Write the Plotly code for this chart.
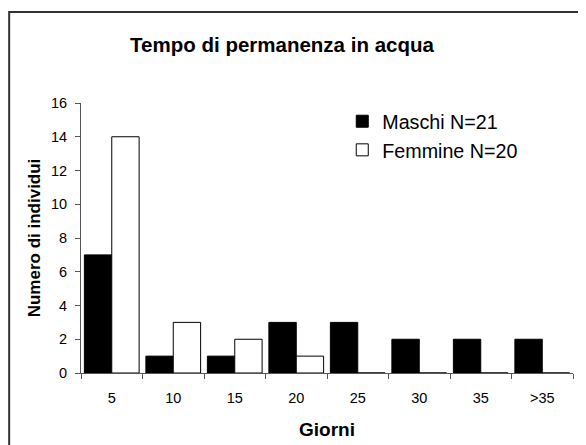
import plotly.graph_objects as go

categories = ["5", "10", "15", "20", "25", "30", "35", ">35"]
maschi = [7, 1, 1, 3, 3, 2, 2, 2]
femmine = [14, 3, 2, 1, 0, 0, 0, 0]
y_ticks = [0, 2, 4, 6, 8, 10, 12, 14, 16]

FONT = "Liberation Sans, Arial, sans-serif"

# the page body adds an 8px offset, so the figure is drawn 8px smaller
W, H = 578, 437

fig = go.Figure()
fig.add_trace(go.Bar(
    x=categories, y=maschi, name="Maschi N=21",
    marker=dict(color="black", line=dict(color="black", width=1)),
))
fig.add_trace(go.Bar(
    x=categories, y=femmine, name="Femmine N=20",
    marker=dict(color="white", line=dict(color="black", width=1)),
))

fig.update_layout(
    width=W, height=H,
    margin=dict(l=73, r=13, t=95, b=72, autoexpand=False),
    paper_bgcolor="white", plot_bgcolor="white",
    barmode="group", bargap=0.11, bargroupgap=0,
    font=dict(family=FONT, color="black", size=14),
    title=dict(text="<b>Tempo di permanenza in acqua</b>",
               x=274 / W, xanchor="center", y=1 - 37 / H, yanchor="middle",
               font=dict(size=20.5, family=FONT, color="black")),
    legend=dict(x=0.531, y=1.004, xanchor="left", yanchor="top",
                font=dict(size=19.7, family=FONT, color="black"),
                bgcolor="rgba(0,0,0,0)", itemwidth=30, tracegroupgap=0),
    showlegend=True,
)

fig.update_xaxes(
    type="category", range=[-0.5, 7.5], automargin=False,
    showline=True, linecolor="#555", linewidth=1,
    ticks="outside", tickson="boundaries", ticklen=5, tickcolor="#555",
    ticklabelstandoff=12,
    showgrid=False, zeroline=False,
    tickfont=dict(size=14.5, color="black"),
    title=dict(text="<b>Giorni</b>", font=dict(size=19, color="black"), standoff=17),
)
fig.update_yaxes(
    range=[0, 16], tickvals=y_ticks, automargin=False,
    showline=True, linecolor="#555", linewidth=1,
    ticks="outside", ticklen=5, tickcolor="#555",
    ticklabelstandoff=5,
    showgrid=False, zeroline=False,
    tickfont=dict(size=14.5, color="black"),
    title=dict(text="<b>Numero di individui</b>", font=dict(size=17, color="black"), standoff=6),
)

# outer chart-area frame (extends past right and bottom edges as in the reference)
fig.add_shape(type="rect", xref="paper", yref="paper",
              x0=-0.146, x1=1.1, y0=-0.4, y1=1.337,
              line=dict(color="#333", width=2), fillcolor="rgba(0,0,0,0)", layer="below")

fig.write_html("out.html")
